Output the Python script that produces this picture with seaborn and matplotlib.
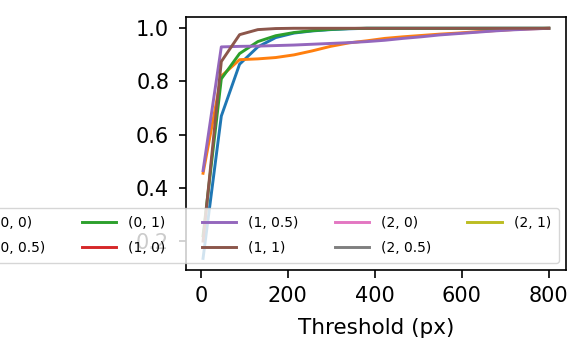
import matplotlib
matplotlib.use("Agg")
import pandas as pd
import matplotlib.pyplot as plt
import seaborn as sns

# threshold values (px)
thresholds = [5, 47, 89, 131, 172, 214, 256, 298, 340, 382,
              423, 465, 507, 549, 591, 633, 674, 716, 758, 800]

# accuracy curves, one per (a, b) setting
acc_0_0 = [0.135, 0.67, 0.865, 0.93, 0.965, 0.982, 0.99, 0.995, 0.998, 1.0,
           1.0, 1.0, 1.0, 1.0, 1.0, 1.0, 1.0, 1.0, 1.0, 1.0]
acc_0_05 = [0.455, 0.82, 0.882, 0.885, 0.89, 0.90, 0.915, 0.932, 0.945, 0.953,
            0.962, 0.968, 0.973, 0.978, 0.982, 0.987, 0.991, 0.995, 0.998, 1.0]
acc_0_1 = [0.22, 0.81, 0.905, 0.95, 0.972, 0.984, 0.991, 0.996, 0.999, 1.0,
           1.0, 1.0, 1.0, 1.0, 1.0, 1.0, 1.0, 1.0, 1.0, 1.0]
acc_1_05 = [0.465, 0.93, 0.932, 0.933, 0.935, 0.937, 0.94, 0.943, 0.946, 0.95,
            0.955, 0.962, 0.968, 0.975, 0.98, 0.985, 0.99, 0.994, 0.997, 1.0]
acc_1_1 = [0.20, 0.875, 0.976, 0.995, 0.999, 1.0, 1.0, 1.0, 1.0, 1.0,
           1.0, 1.0, 1.0, 1.0, 1.0, 1.0, 1.0, 1.0, 1.0, 1.0]

labels = ["(0, 0)", "(0, 0.5)", "(0, 1)", "(1, 0)", "(1, 0.5)",
          "(1, 1)", "(2, 0)", "(2, 0.5)", "(2, 1)"]
curves = {"(0, 0)": acc_0_0, "(0, 0.5)": acc_0_05, "(0, 1)": acc_0_1,
          "(1, 0.5)": acc_1_05, "(1, 1)": acc_1_1}

#---------------
# Long format table
#---------------
rows = []
for name, vals in curves.items():
    for t, v in zip(thresholds, vals):
        rows.append({"Threshold (px)": t, "acc": v, "setting": name})
df = pd.DataFrame(rows)

#---------------
# Plot
#---------------
fig = plt.figure(figsize=(5.86, 3.57), dpi=100)
ax = fig.add_axes([0.317, 0.244, 0.649, 0.709])
sns.lineplot(data=df, x="Threshold (px)", y="acc", hue="setting",
             hue_order=labels, palette="tab10", errorbar=None,
             linewidth=2.1, ax=ax)
ax.set_ylabel("")
ax.set_xlabel("Threshold (px)", fontsize=15.5, labelpad=8)
ax.set_xticks([0, 200, 400, 600, 800])
ax.set_yticks([0.2, 0.4, 0.6, 0.8, 1.0])
ax.tick_params(labelsize=15, length=5.4, width=1.2, pad=6.5)
for s in ax.spines.values():
    s.set_linewidth(1.2)
sns.move_legend(ax, "lower right", ncol=5, fontsize=10, title=None,
                handlelength=2.5, handletextpad=0.85, columnspacing=2.6,
                labelspacing=0.78, borderpad=0.57)

fig.savefig("out.png", dpi=100)
